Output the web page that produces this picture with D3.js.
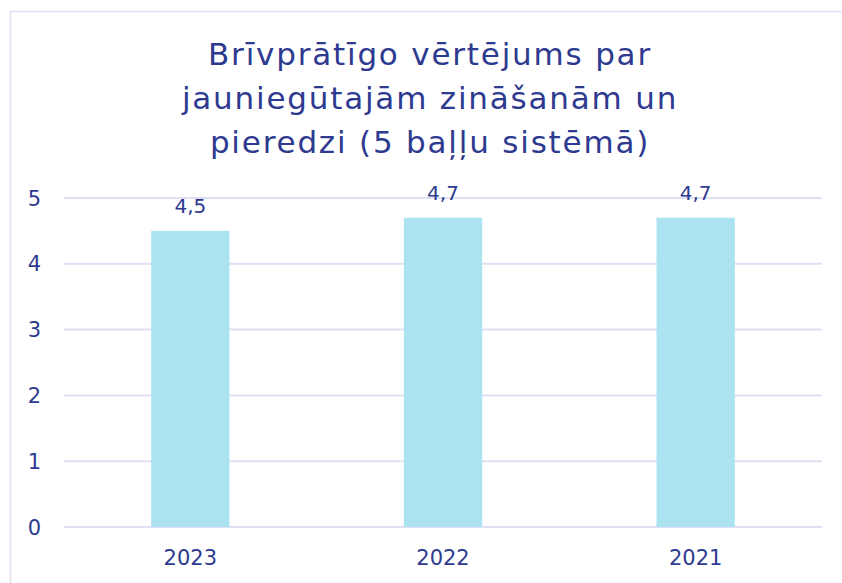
<!DOCTYPE html>
<html>
<head>
<meta charset="utf-8">
<script src="https://cdn.jsdelivr.net/npm/d3@7.9.0/dist/d3.min.js"></script>
<style>
  html, body { margin: 0; padding: 0; background: #fff; }
  svg { display: block; font-family: "DejaVu Sans", "Noto Sans", sans-serif; }
</style>
</head>
<body>
<div id="chart"></div>
<script>
/* data */
const titleLines = ['Brīvprātīgo vērtējums par', 'jauniegūtajām zināšanām un', 'pieredzi (5 baļļu sistēmā)'];
const years = ['2023', '2022', '2021'];
const scores = [4.5, 4.7, 4.7];
const yTicks = [0, 1, 2, 3, 4, 5];

const width = 842;
const height = 583;
const navy = '#2e3a8f';

const svg = d3.select('#chart')
  .append('svg')
  .attr('width', width)
  .attr('height', height);

/* frame */
svg.append('rect')
  .attr('x', 10.5)
  .attr('y', 11.5)
  .attr('width', 900)
  .attr('height', 700)
  .attr('fill', 'none')
  .attr('stroke', '#dde0f3')
  .attr('stroke-width', 1.5);

/* title */
svg.append('text')
  .attr('text-anchor', 'middle')
  .attr('fill', navy)
  .attr('font-size', 31)
  .attr('letter-spacing', 1.8)
  .selectAll('tspan')
  .data(titleLines)
  .join('tspan')
  .attr('x', 430)
  .attr('y', (d, i) => 65 + i * 44)
  .text(d => d);

/* scales */
const x = d3.scaleBand()
  .domain(years)
  .range([64, 822])
  .paddingInner(0.69)
  .paddingOuter(0.345);

const y = d3.scaleLinear()
  .domain([0, 5])
  .range([527, 198]);

/* gridlines */
svg.append('g')
  .selectAll('line')
  .data(yTicks)
  .join('line')
  .attr('x1', 64)
  .attr('x2', 822)
  .attr('y1', d => y(d))
  .attr('y2', d => y(d))
  .attr('stroke', '#dfe0f3')
  .attr('stroke-width', 2);

/* y labels */
svg.append('g')
  .selectAll('text')
  .data(yTicks)
  .join('text')
  .attr('x', 41)
  .attr('y', d => y(d))
  .attr('dy', '0.36em')
  .attr('text-anchor', 'end')
  .attr('fill', navy)
  .attr('font-size', 21)
  .text(d => d);

/* bars */
svg.append('g')
  .selectAll('rect')
  .data(scores)
  .join('rect')
  .attr('x', (d, i) => x(years[i]))
  .attr('y', d => y(d))
  .attr('width', x.bandwidth())
  .attr('height', d => y(0) - y(d))
  .attr('fill', '#ace3f0');

/* value labels */
svg.append('g')
  .selectAll('text')
  .data(scores)
  .join('text')
  .attr('x', (d, i) => x(years[i]) + x.bandwidth() / 2)
  .attr('y', d => y(d) - 18)
  .attr('text-anchor', 'middle')
  .attr('fill', navy)
  .attr('font-size', 20)
  .text(d => d3.format('.1f')(d).replace('.', ','));

/* x labels */
svg.append('g')
  .selectAll('text')
  .data(years)
  .join('text')
  .attr('x', d => x(d) + x.bandwidth() / 2)
  .attr('y', 565)
  .attr('text-anchor', 'middle')
  .attr('fill', navy)
  .attr('font-size', 21)
  .text(d => d);
</script>
</body>
</html>
